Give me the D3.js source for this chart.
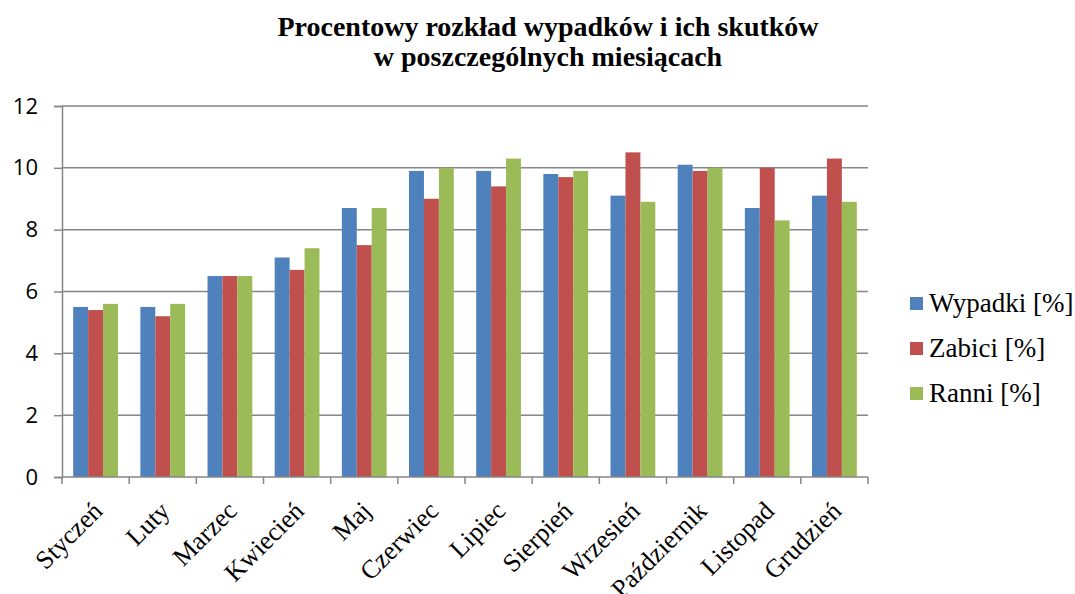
<!DOCTYPE html>
<html>
<head>
<meta charset="utf-8">
<script src="https://cdn.jsdelivr.net/npm/d3@7"></script>
<style>
  html, body { margin: 0; padding: 0; background: #fff; }
  svg { display: block; }
</style>
</head>
<body>
<svg id="chart" width="1075" height="594"></svg>
<script>
// Months of the year
const months = ["Styczeń", "Luty", "Marzec", "Kwiecień", "Maj", "Czerwiec", "Lipiec",
                "Sierpień", "Wrzesień", "Październik", "Listopad", "Grudzień"];

// Share of accidents, killed and injured per month [%]
const wypadki = [5.5, 5.5, 6.5, 7.1, 8.7, 9.9, 9.9, 9.8, 9.1, 10.1, 8.7, 9.1];
const zabici  = [5.4, 5.2, 6.5, 6.7, 7.5, 9.0, 9.4, 9.7, 10.5, 9.9, 10.0, 10.3];
const ranni   = [5.6, 5.6, 6.5, 7.4, 8.7, 10.0, 10.3, 9.9, 8.9, 10.0, 8.3, 8.9];

const seriesNames = ["Wypadki [%]", "Zabici [%]", "Ranni [%]"];
const seriesColors = ["#4F81BD", "#C0504D", "#9BBB59"];
const yTicks = [0, 2, 4, 6, 8, 10, 12];

const series = [wypadki, zabici, ranni];

const svg = d3.select("#chart");
const margin = { left: 62, right: 207, top: 106, bottom: 117 };
const W = 1075, H = 594;
const x0 = margin.left, x1 = W - margin.right;
const y0 = H - margin.bottom, y1 = margin.top;

const x = d3.scaleBand().domain(months).range([x0, x1]).paddingInner(0).paddingOuter(0);
const y = d3.scaleLinear().domain([0, 12]).range([y0, y1]);

// Bars take 3 of 4.5 units in each band (gap 150% of bar width)
const barW = x.bandwidth() / 4.5;
const gap = barW * 0.75;

const gridColor = "#868686";
const serif = "'Liberation Serif', 'Times New Roman', serif";

// Horizontal gridlines
svg.append("g")
  .selectAll("line")
  .data(yTicks.filter(t => t > 0))
  .join("line")
  .attr("x1", x0).attr("x2", x1)
  .attr("y1", d => y(d)).attr("y2", d => y(d))
  .attr("stroke", gridColor).attr("stroke-width", 1.5);

// Bars
series.forEach((vals, si) => {
  svg.append("g")
    .selectAll("rect")
    .data(vals)
    .join("rect")
    .attr("x", (d, i) => x(months[i]) + gap + si * barW)
    .attr("y", d => y(d))
    .attr("width", barW)
    .attr("height", d => y0 - y(d))
    .attr("fill", seriesColors[si]);
});

// Y axis
const yAxis = svg.append("g")
  .attr("transform", `translate(${x0},0)`)
  .call(d3.axisLeft(y).tickValues(yTicks).tickSize(8).tickPadding(16).tickFormat(d3.format("d")));
yAxis.select(".domain").attr("stroke", gridColor).attr("stroke-width", 1.5);
yAxis.selectAll(".tick line").attr("stroke", gridColor).attr("stroke-width", 1.5);
yAxis.selectAll(".tick text")
  .attr("font-family", "'Open Sans', 'Liberation Sans', sans-serif")
  .attr("font-size", 22)
  .attr("fill", "#000");

// X axis with boundary ticks between months
const xAxisG = svg.append("g");
xAxisG.append("line")
  .attr("x1", x0).attr("x2", x1)
  .attr("y1", y0).attr("y2", y0)
  .attr("stroke", gridColor).attr("stroke-width", 1.5);
const boundaries = months.map(m => x(m)).concat([x1]);
xAxisG.selectAll("line.tick")
  .data(boundaries)
  .join("line")
  .attr("class", "tick")
  .attr("x1", d => d).attr("x2", d => d)
  .attr("y1", y0).attr("y2", y0 + 7)
  .attr("stroke", gridColor).attr("stroke-width", 1.5);

// Rotated month labels
xAxisG.selectAll("text")
  .data(months)
  .join("text")
  .attr("transform", d => `translate(${x(d) + x.bandwidth() / 2 + 2},${y0 + 29}) rotate(-45)`)
  .attr("text-anchor", "end")
  .attr("dy", "0.35em")
  .attr("font-family", serif)
  .attr("font-size", 26)
  .attr("fill", "#000")
  .text(d => d);

// Title
const title = svg.append("text")
  .attr("x", 548)
  .attr("text-anchor", "middle")
  .attr("font-family", serif)
  .attr("font-weight", "bold")
  .attr("font-size", 28)
  .attr("fill", "#000");
title.append("tspan").attr("x", 548).attr("y", 36).text("Procentowy rozkład wypadków i ich skutków");
title.append("tspan").attr("x", 548).attr("y", 66).text("w poszczególnych miesiącach");

// Legend
const legend = svg.append("g").attr("transform", "translate(910,303)");
seriesNames.forEach((name, i) => {
  const g = legend.append("g").attr("transform", `translate(0,${i * 45})`);
  g.append("rect").attr("x", 0).attr("y", -6).attr("width", 13).attr("height", 13).attr("fill", seriesColors[i]);
  g.append("text")
    .attr("x", 19).attr("y", 0).attr("dy", "0.35em")
    .attr("font-family", serif)
    .attr("font-size", 27)
    .attr("fill", "#000")
    .text(name);
});
</script>
</body>
</html>
